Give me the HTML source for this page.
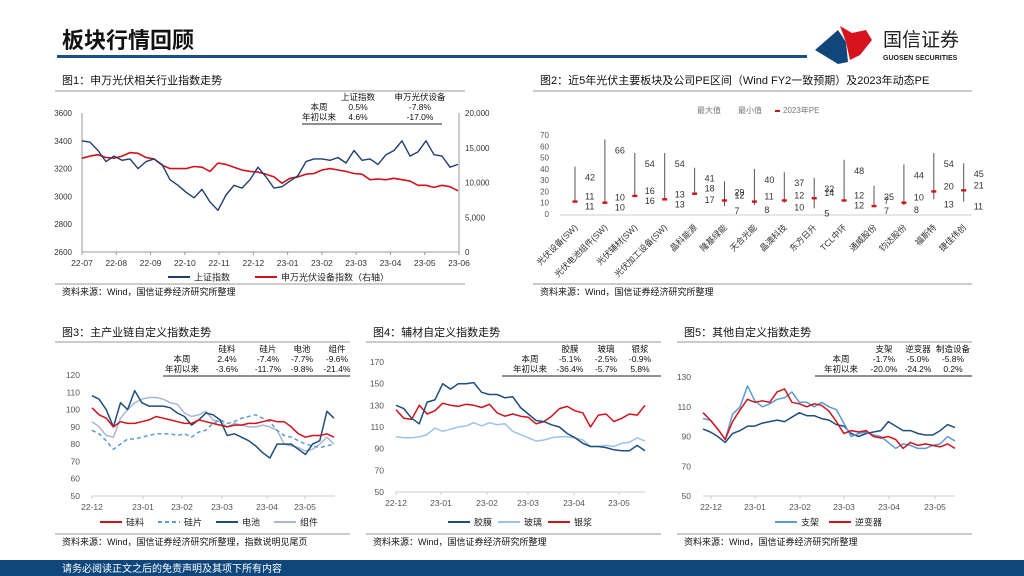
<!DOCTYPE html>
<html><head><meta charset="utf-8">
<style>
html,body{margin:0;padding:0;background:#fff;}
svg{display:block;font-family:"Liberation Sans","Noto Sans CJK SC",sans-serif;}
</style></head>
<body>
<svg id="s" width="1024" height="576" viewBox="0 0 1024 576" xmlns="http://www.w3.org/2000/svg">
<text x="62" y="48" font-size="22" font-weight="bold" fill="#111">板块行情回顾</text>
<rect x="57" y="55" width="750" height="3" fill="#1a4f85"/>
<g>
<polygon points="815,50 838,30 846,42 848,62 838,64" fill="#11467a"/>
<polygon points="840,26 852,33 866,30 872,40 860,55 850,60 846,42" fill="#d7141d"/>
<text x="883" y="46" font-size="19" fill="#222">国信证券</text>
<text x="883" y="60" font-size="7" font-weight="bold" fill="#222">GUOSEN SECURITIES</text>
</g>
<rect x="0" y="560" width="1024" height="16" fill="#0f477d"/>
<text x="62" y="572" font-size="10" fill="#fff">请务必阅读正文之后的免责声明及其项下所有内容</text>
<g id="g"></g>
</svg>
<script>
// ---- Chart 1 data ----
const c1Ticks=['22-07','22-08','22-09','22-10','22-11','22-12','23-01','23-02','23-03','23-04','23-05','23-06'];
const c1LeftTicks=[3600,3400,3200,3000,2800,2600];
const c1RightTicks=['20,000','15,000','10,000','5,000','0'];
const c1SH=[3400,3390,3330,3250,3290,3260,3270,3200,3250,3270,3230,3120,3080,3030,2990,3050,2960,2900,3010,3080,3060,3120,3210,3140,3060,3070,3110,3150,3250,3270,3270,3260,3280,3240,3330,3260,3270,3230,3300,3330,3400,3290,3320,3400,3300,3290,3210,3230];
const c1PV=[13.5,13.8,14,13.6,13.5,13.8,14.3,14.2,13.6,13.4,12.5,12,12,12,12.3,12.2,11.6,12.8,12.6,12.2,11.8,11.6,11.5,11.2,10.8,9.9,10.6,10.8,11.2,11.3,11.8,12,11.8,11.6,11.3,11.2,10.4,10.5,10.4,10.6,10.4,10.2,9.6,9.6,9.3,9.6,9.4,8.8];
// ---- Chart 2 data ----
const c2Cats=['光伏设备(SW)','光伏电池组件(SW)','光伏辅材(SW)','光伏加工设备(SW)','晶科能源','隆基绿能','天合光能','晶澳科技','东方日升','TCL中环','通威股份','钧达股份','福斯特','捷佳伟创'];
const c2Max=[42,66,54,54,41,29,40,37,32,48,25,44,54,45];
const c2Min=[11,10,16,13,17,7,8,10,5,12,7,8,13,11];
const c2PE=[11,10,16,13,18,12,11,12,14,12,7,10,20,21];
const c2Ticks=[0,10,20,30,40,50,60,70];
// ---- Chart 3 data ----
const c3Ticks=['22-12','23-01','23-02','23-03','23-04','23-05'];
const c3Y=[120,110,100,90,80,70,60,50];
const c3Si=[101,97,95,90,93,92,92,93,94,96,95,94,93,92,92,94,93,92,91,90,91,91,92,92,93,94,93,93,90,86,84,85,85,86,84];
const c3Wafer=[88,86,82,77,80,83,83,84,85,86,86,86,85,86,84,87,88,92,94,92,93,95,96,97,95,93,88,85,84,82,80,79,78,79,80];
const c3Cell=[108,106,100,90,104,100,111,104,102,102,102,101,98,96,91,94,98,97,94,85,86,84,82,79,75,72,80,80,80,77,74,80,82,99,95];
const c3Mod=[93,90,85,84,95,100,104,106,107,107,106,104,103,98,96,97,99,94,93,90,92,91,90,90,91,90,88,80,79,78,76,77,80,84,80];
// ---- Chart 4 data ----
const c4Ticks=['22-12','23-01','23-02','23-03','23-04','23-05'];
const c4Y=[170,150,130,110,90,70,50];
const c4Film=[130,127,118,113,133,135,150,145,150,150,151,142,140,140,137,138,128,122,116,115,112,110,104,100,95,92,92,91,89,88,88,93,88];
const c4Glass=[101,100,100,101,103,109,106,108,110,111,114,111,114,112,113,106,103,100,97,98,100,101,101,100,98,92,92,93,92,95,96,100,97];
const c4Paste=[126,118,117,130,122,125,132,130,129,131,130,128,131,123,120,122,120,119,113,115,120,127,129,125,123,110,121,122,115,118,122,121,130];
// ---- Chart 5 data ----
const c5Ticks=['22-12','23-01','23-02','23-03','23-04','23-05'];
const c5Y=[130,110,90,70,50];
const c5Mount=[102,101,95,88,105,110,124,114,110,112,115,116,120,113,113,110,113,110,108,99,90,92,93,91,90,86,82,85,84,82,82,84,85,90,87];
const c5Inv=[106,101,95,88,100,108,115,113,114,113,120,122,113,112,110,112,111,107,100,92,94,93,94,90,89,90,88,82,86,84,85,84,83,85,82];
const c5Equip=[95,93,90,86,92,94,97,97,99,100,101,100,103,106,104,104,102,101,98,97,92,90,92,93,94,100,97,94,94,92,91,91,94,98,96];

const NS='http://www.w3.org/2000/svg';
const G=document.getElementById('g');
function el(tag,attrs,parent){const e=document.createElementNS(NS,tag);for(const k in attrs)e.setAttribute(k,attrs[k]);(parent||G).appendChild(e);return e;}
function txt(x,y,s,size,anchor,fill,parent){const t=el('text',{x:x,y:y,'font-size':size,'text-anchor':anchor||'start',fill:fill||'#333'},parent);t.textContent=s;return t;}
function lin(v,d0,d1,r0,r1){return r0+(v-d0)/(d1-d0)*(r1-r0);}
function series(vals,x0,x1,ymin,ymax,yb,yt,color,w,dash,name,parent){
  const n=vals.length;let d='';
  vals.forEach((v,i)=>{const x=lin(i,0,n-1,x0,x1);const y=lin(v,ymin,ymax,yb,yt);d+=(i?'L':'M')+x.toFixed(1)+','+y.toFixed(1);});
  const p=el('path',{d:d,fill:'none',stroke:color,'stroke-width':w,'stroke-linejoin':'round'},parent);
  if(dash)p.setAttribute('stroke-dasharray',dash);
  
  
}
function panelFrame(x0,x1,titleY,title,sepY,srcLineY,srcText,name){
  const g=el('g',{});
  
  
  txt(x0+7,titleY,title,11,'start','#111',g);
  el('line',{x1:x0,y1:sepY,x2:x1,y2:sepY,stroke:'#999','stroke-width':1},g);
  el('line',{x1:x0,y1:srcLineY,x2:x1,y2:srcLineY,stroke:'#999','stroke-width':1},g);
  txt(x0+7,srcLineY+11,srcText,9,'start','#111',g);
  return g;
}
function table(g,cols,colX,rowLabelX,rows,y0,lineX0,lineX1){
  cols.forEach((c,i)=>txt(colX[i],y0,c,8.5,'middle','#111',g));
  rows.forEach((r,ri)=>{txt(rowLabelX,y0+10*(ri+1),r[0],8.5,'middle','#111',g);
    r.slice(1).forEach((v,i)=>txt(colX[i],y0+10*(ri+1),v,8.5,'middle','#111',g));});
  el('line',{x1:lineX0,y1:y0+24,x2:lineX1,y2:y0+24,stroke:'#222','stroke-width':1},g);
}
function legendItem(g,x,y,color,label,dash){
  const l=el('line',{x1:x,y1:y,x2:x+22,y2:y,stroke:color,'stroke-width':2},g);
  if(dash)l.setAttribute('stroke-dasharray',dash);
  txt(x+26,y+3.5,label,9,'start','#222',g);
}

// ===== Chart 1 =====
(function(){
  const g=panelFrame(55,465,84,'图1：申万光伏相关行业指数走势',91,284,'资料来源：Wind，国信证券经济研究所整理','chart1');
  const x0=82,x1=459,yt=113,yb=252;
  el('line',{x1:x0,y1:yt,x2:x0,y2:yb,stroke:'#999'},g);
  el('line',{x1:x1,y1:yt,x2:x1,y2:yb,stroke:'#999'},g);
  el('line',{x1:x0,y1:yb,x2:x1,y2:yb,stroke:'#999'},g);
  c1LeftTicks.forEach(v=>txt(x0-10,lin(v,2600,3600,yb,yt)+3,String(v),8,'end','#333',g));
  c1RightTicks.forEach((s,i)=>txt(x1+6,lin(20-5*i,0,20,yb,yt)+3,s,8,'start','#333',g));
  c1Ticks.forEach((s,i)=>{const x=lin(i,0,c1Ticks.length-1,x0,x1);el('line',{x1:x,y1:yb,x2:x,y2:yb+3,stroke:'#999'},g);txt(x,yb+14,s,8.5,'middle','#333',g);});
  series(c1PV,x0,x1-1,0,20,yb,yt,'#d0121b',1.6,null,'pv-equipment-line',g);
  series(c1SH,x0,x1-1,2600,3600,yb,yt,'#1f3e6e',1.4,null,'shanghai-index-line',g);
  table(g,['上证指数','申万光伏设备'],[358,420],319,[['本周','0.5%','-7.8%'],['年初以来','4.6%','-17.0%']],100,302,442);
  legendItem(g,168,277,'#1f3e6e','上证指数');
  legendItem(g,255,277,'#d0121b','申万光伏设备指数（右轴）');
})();

// ===== Chart 2 =====
(function(){
  const g=panelFrame(533,972,84,'图2：近5年光伏主要板块及公司PE区间（Wind FY2一致预期）及2023年动态PE',91,284,'资料来源：Wind，国信证券经济研究所整理','chart2');
  const yt=135,yb=214,x0=560,x1=972;
  el('line',{x1:x0,y1:yb+1,x2:x1,y2:yb+1,stroke:'#ccc'},g);
  c2Ticks.forEach(v=>txt(549,lin(v,0,70,yb,yt)+3,String(v),8,'end','#555',g));
  txt(697,113,'最大值',8,'start','#777',g);txt(738,113,'最小值',8,'start','#777',g);
  el('rect',{x:775,y:110,width:5,height:2,fill:'#d0121b'},g);txt(783,113,'2023年PE',8,'start','#777',g);
  const sp=29.9;
  c2Cats.forEach((c,i)=>{
    const x=575+i*sp;
    const yM=lin(c2Max[i],0,70,yb,yt),ym=lin(c2Min[i],0,70,yb,yt),yp=lin(c2PE[i],0,70,yb,yt);
    const l=el('line',{x1:x,y1:yM,x2:x,y2:ym,stroke:'#555','stroke-width':1},g);
    
    
    const r=el('rect',{x:x-2.5,y:yp-1.2,width:5,height:2.4,fill:'#d0121b'},g);
    
    
    txt(x+10,yM+14,String(c2Max[i]),9,'start','#333',g);
    txt(x+10,Math.min(yp,ym)-2,String(c2PE[i]),9,'start','#333',g);
    txt(x+10,Math.max(yp,ym)+8,String(c2Min[i]),9,'start','#333',g);
    const t=txt(x+3,228,c,8.5,'end','#333',g);
    t.setAttribute('transform','rotate(-45 '+(x+3)+' 228)');
  });
})();

// ===== bottom charts =====
function bottomChart(cfg){
  const g=panelFrame(cfg.fx0,cfg.fx1,336,cfg.title,342,534,cfg.src,cfg.name);
  const {x0,x1,yt,yb,ymin,ymax}=cfg;
  el('line',{x1:x0,y1:yb,x2:x1,y2:yb,stroke:'#ccc'},g);
  cfg.yTicks.forEach(v=>txt(x0-12,lin(v,ymin,ymax,yb,yt)+3,String(v),8.5,'end','#555',g));
  cfg.xTicks.forEach((s,i)=>{const x=cfg.xPos[i];el('line',{x1:x,y1:yb,x2:x,y2:yb+3,stroke:'#ccc'},g);txt(x,yb+14,s,8.5,'middle','#555',g);});
  cfg.series.forEach(s=>series(s.v,x0,cfg.xe,ymin,ymax,yb,yt,s.c,1.5,s.d,s.n,g));
  table(g,cfg.cols,cfg.colX,cfg.rowX,cfg.rows,352,cfg.lx0,cfg.fx1);
  cfg.legend.forEach(l=>legendItem(g,l[0],522,l[1],l[2],l[3]));
}
bottomChart({name:'chart3',fx0:55,fx1:350,title:'图3：主产业链自定义指数走势',src:'资料来源：Wind，国信证券经济研究所整理，指数说明见尾页',
  x0:92,x1:335,xe:334,yt:375,yb:496,ymin:50,ymax:120,yTicks:c3Y,xTicks:c3Ticks,xPos:[92,143,182,222,267,305],
  series:[{v:c3Mod,c:'#a9b8d2',n:'module-line'},{v:c3Wafer,c:'#5b9bd5',d:'4,3',n:'wafer-line'},{v:c3Cell,c:'#1f4e7e',n:'cell-line'},{v:c3Si,c:'#d0121b',n:'silicon-line'}],
  cols:['硅料','硅片','电池','组件'],colX:[227,268,302,337],rowX:182,rows:[['本周','2.4%','-7.4%','-7.7%','-9.6%'],['年初以来','-3.6%','-11.7%','-9.8%','-21.4%']],lx0:163,
  legend:[[100,'#d0121b','硅料'],[158,'#5b9bd5','硅片','4,3'],[216,'#1f4e7e','电池'],[274,'#a9b8d2','组件']]});
bottomChart({name:'chart4',fx0:366,fx1:661,title:'图4：辅材自定义指数走势',src:'资料来源：Wind，国信证券经济研究所整理',
  x0:396,x1:645,xe:645,yt:362,yb:492,ymin:50,ymax:170,yTicks:c4Y,xTicks:c4Ticks,xPos:[396,441,487,528,574,619],
  series:[{v:c4Glass,c:'#9dc3e6',n:'glass-line'},{v:c4Paste,c:'#d0121b',n:'silver-paste-line'},{v:c4Film,c:'#1f4e7e',n:'film-line'}],
  cols:['胶膜','玻璃','银浆'],colX:[570,606,640],rowX:530,rows:[['本周','-5.1%','-2.5%','-0.9%'],['年初以来','-36.4%','-5.7%','5.8%']],lx0:502,
  legend:[[448,'#1f4e7e','胶膜'],[498,'#9dc3e6','玻璃'],[548,'#d0121b','银浆']]});
bottomChart({name:'chart5',fx0:677,fx1:972,title:'图5：其他自定义指数走势',src:'资料来源：Wind，国信证券经济研究所整理',
  x0:703,x1:955,xe:955,yt:377,yb:496,ymin:50,ymax:130,yTicks:c5Y,xTicks:c5Ticks,xPos:[711,755,800,844,889,935],
  series:[{v:c5Equip,c:'#1f4e7e',n:'equipment-line'},{v:c5Mount,c:'#5b9bd5',n:'mount-line'},{v:c5Inv,c:'#d0121b',n:'inverter-line'}],
  cols:['支架','逆变器','制造设备'],colX:[884,918,953],rowX:841,rows:[['本周','-1.7%','-5.0%','-5.8%'],['年初以来','-20.0%','-24.2%','0.2%']],lx0:815,
  legend:[[775,'#5b9bd5','支架'],[829,'#d0121b','逆变器']]});
</script>
</body></html>
